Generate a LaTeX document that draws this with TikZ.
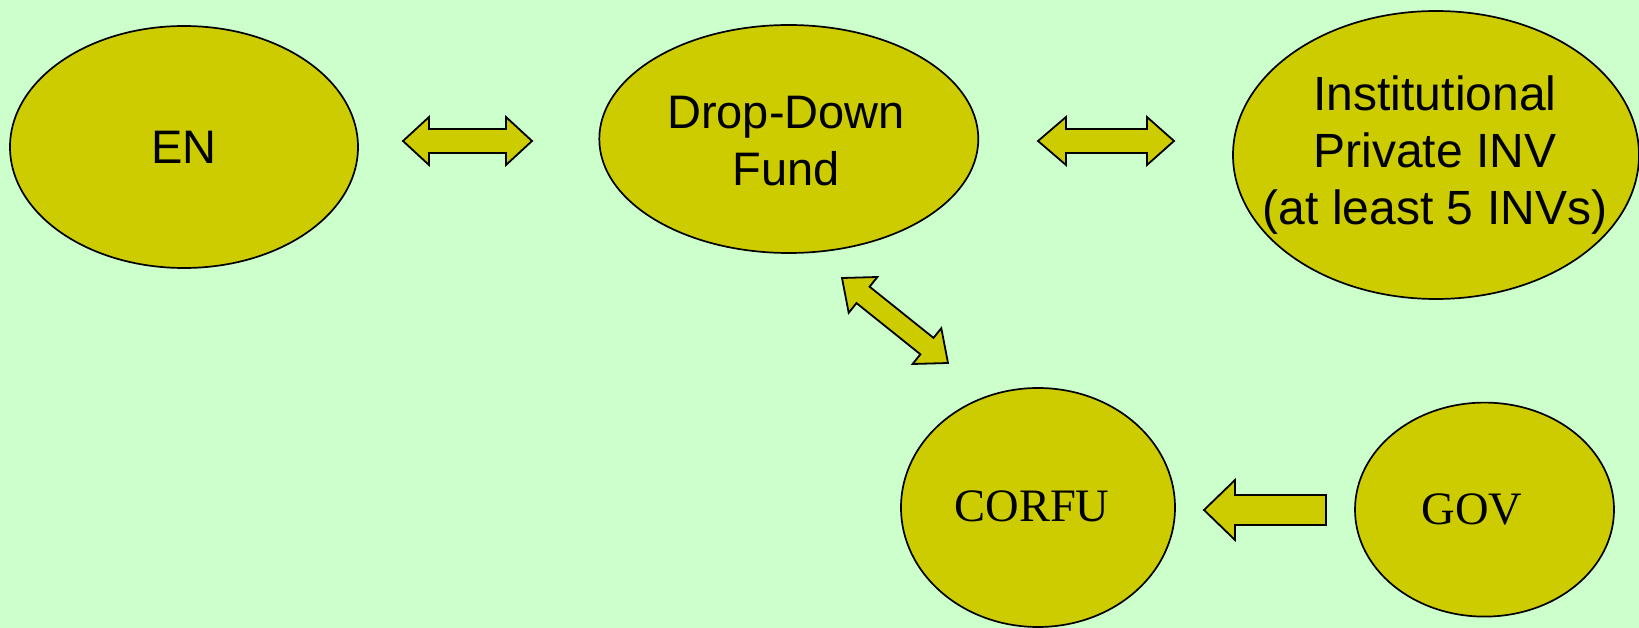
\documentclass[tikz,border=0pt]{standalone}
\usepackage{fontspec}
\setmainfont{Liberation Sans}
\newfontfamily\serifface{Liberation Serif}
\usetikzlibrary{shapes.geometric}
\definecolor{bgcol}{RGB}{204,255,204}
\definecolor{blobcol}{RGB}{204,204,0}
\tikzset{
  blob/.style={ellipse, draw=black, fill=blobcol, line width=1.7pt, inner sep=0pt},
  sanslabel/.style={align=center, font=\fontsize{47}{57}\selectfont, inner sep=0pt},
  seriflabel/.style={align=center, font=\serifface\fontsize{46.5}{56}\selectfont, inner sep=0pt},
  blockarrow/.style={draw=black, fill=blobcol, line width=1.8pt, line join=miter}
}
\begin{document}
\begin{tikzpicture}[x=1pt, y=-1pt]
\useasboundingbox (0,0) rectangle (1639,628);
\fill[bgcol] (0,0) rectangle (1639,628);

% ellipses
\node[blob, minimum width=348pt, minimum height=242pt] (en) at (184,147) {};
\node[blob, minimum width=379pt, minimum height=228pt] (fund) at (788.8,139) {};
\node[blob, minimum width=406pt, minimum height=288pt] (inst) at (1436,155) {};
\node[blob, minimum width=274pt, minimum height=239pt] (corfu) at (1038,507.5) {};
\node[blob, minimum width=259pt, minimum height=214pt] (gov) at (1484.5,509.6) {};

% labels
\node[sanslabel] (en-t) at (184,147) {EN};
\node[sanslabel] (fund-t) at (786,141) {Drop-Down\\Fund};
\node[sanslabel, font=\fontsize{48}{57}\selectfont] (inst-t) at (1435,155) {Institutional\\Private INV\\(at least 5 INVs)};
\node[seriflabel] (corfu-t) at (1032,506) {CORFU};
\node[seriflabel] (gov-t) at (1472,509) {GOV};

% block arrows
% EN <-> Fund
\draw[blockarrow] (403,141) -- (429,117) -- (429,129) -- (506,129) -- (506,117) -- (532,141)
  -- (506,165) -- (506,153) -- (429,153) -- (429,165) -- cycle;
% Fund <-> Institutional
\draw[blockarrow] (1038,141) -- (1066,117) -- (1066,129) -- (1147,129) -- (1147,117) -- (1174,141)
  -- (1147,165) -- (1147,153) -- (1066,153) -- (1066,165) -- cycle;
% Fund <-> CORFU (diagonal)
\draw[blockarrow] (842,278) -- (877.4,277.0) -- (869.6,286.7) -- (933.5,337.9) -- (941.3,328.2)
  -- (948,363) -- (912.6,364.0) -- (920.4,354.3) -- (856.5,303.1) -- (848.7,312.8) -- cycle;
% GOV -> CORFU
\draw[blockarrow] (1204,510) -- (1235,480) -- (1235,495) -- (1326,495) -- (1326,525)
  -- (1235,525) -- (1235,540) -- cycle;
\end{tikzpicture}
\end{document}
